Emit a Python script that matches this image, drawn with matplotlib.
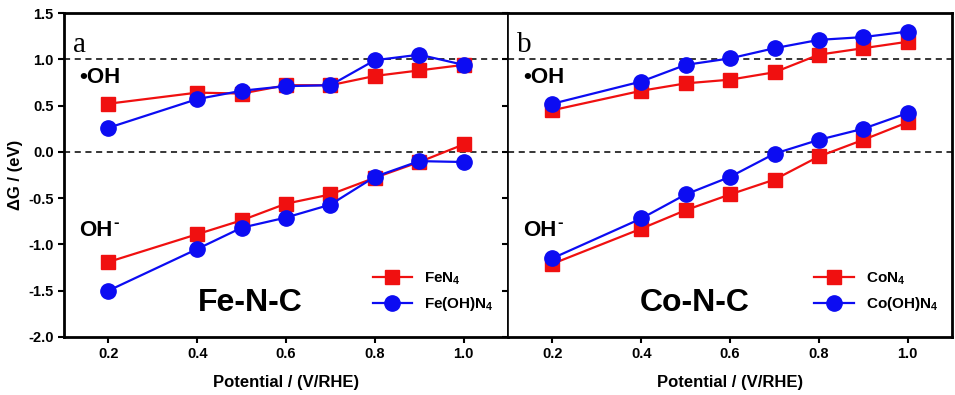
import numpy as np
import matplotlib.pyplot as plt

plt.rcParams['font.family'] = ['Liberation Sans', 'DejaVu Sans']
plt.rcParams['font.weight'] = 'bold'
plt.rcParams['mathtext.default'] = 'regular'

# 数据
potential = [0.2, 0.4, 0.5, 0.6, 0.7, 0.8, 0.9, 1.0]

fe_oh_feN4 = [0.52, 0.64, 0.63, 0.72, 0.72, 0.82, 0.88, 0.94]
fe_oh_feOHN4 = [0.26, 0.57, 0.66, 0.71, 0.72, 0.99, 1.05, 0.94]
fe_ohm_feN4 = [-1.19, -0.89, -0.74, -0.56, -0.46, -0.28, -0.11, 0.08]
fe_ohm_feOHN4 = [-1.50, -1.05, -0.82, -0.71, -0.57, -0.27, -0.10, -0.11]

co_oh_coN4 = [0.45, 0.66, 0.74, 0.78, 0.86, 1.05, 1.12, 1.19]
co_oh_coOHN4 = [0.52, 0.76, 0.94, 1.01, 1.12, 1.21, 1.24, 1.30]
co_ohm_coN4 = [-1.21, -0.83, -0.63, -0.46, -0.30, -0.05, 0.13, 0.32]
co_ohm_coOHN4 = [-1.15, -0.72, -0.46, -0.27, -0.02, 0.13, 0.25, 0.42]

red = '#f01010'
blue = '#0c0cf2'

fig = plt.figure(figsize=(9.55, 3.95), dpi=100)
ax1 = fig.add_axes([0.067, 0.147, 0.465, 0.820])
ax2 = fig.add_axes([0.532, 0.147, 0.465, 0.820])

panels = [
    (ax1, 'a', 'Fe-N-C', 'FeN$_4$', 'Fe(OH)N$_4$',
     fe_oh_feN4, fe_oh_feOHN4, fe_ohm_feN4, fe_ohm_feOHN4),
    (ax2, 'b', 'Co-N-C', 'CoN$_4$', 'Co(OH)N$_4$',
     co_oh_coN4, co_oh_coOHN4, co_ohm_coN4, co_ohm_coOHN4),
]

for ax, tag, name, lab1, lab2, r_up, b_up, r_lo, b_lo in panels:
    ax.axhline(1.0, color='black', ls=(0, (4, 3)), lw=1.1, zorder=1)
    ax.axhline(0.0, color='black', ls=(0, (4, 3)), lw=1.1, zorder=1)

    l1, = ax.plot(potential, r_up, color=red, marker='s', ms=10, lw=1.6, label=lab1, zorder=3)
    l2, = ax.plot(potential, b_up, color=blue, marker='o', ms=11, lw=1.6, label=lab2, zorder=3)
    ax.plot(potential, r_lo, color=red, marker='s', ms=10, lw=1.6, zorder=3)
    ax.plot(potential, b_lo, color=blue, marker='o', ms=11, lw=1.6, zorder=3)

    ax.set_xlim(0.1, 1.1)
    ax.set_ylim(-2.0, 1.5)
    ax.set_xticks([0.2, 0.4, 0.6, 0.8, 1.0])
    ax.set_yticks(np.arange(-2.0, 1.51, 0.5))
    ax.tick_params(direction='out', length=4, width=1.5, labelsize=10.5)
    for s in ax.spines.values():
        s.set_linewidth(2.0)
    ax.set_xlabel('Potential / (V/RHE)', fontsize=12, fontweight='bold', labelpad=10)

    ax.text(0.02, 0.90, tag, transform=ax.transAxes, fontsize=21,
            family='Liberation Serif', fontweight='normal', va='center', ha='left')
    ax.text(0.035, 0.80, '\u2022OH', transform=ax.transAxes, fontsize=16,
            fontweight='bold', va='center', ha='left')
    oh = ax.text(0.035, 0.33, 'OH', transform=ax.transAxes, fontsize=16,
                 fontweight='bold', va='center', ha='left')
    ax.annotate('-', xy=(1.0, 1.0), xycoords=oh, xytext=(0.5, -2),
                textcoords='offset points', fontsize=12, fontweight='bold',
                va='center', ha='left')
    ax.text(0.42, 0.105, name, transform=ax.transAxes, fontsize=23,
            fontweight='bold', va='center', ha='center')

    ax.legend(handles=[l1, l2], loc='lower right', bbox_to_anchor=(1.0, 0.03),
              frameon=False, handlelength=2.6, labelspacing=0.55,
              prop={'weight': 'bold', 'size': 11})

ax1.set_yticklabels(['-2.0', '-1.5', '-1.0', '-0.5', '0.0', '0.5', '1.0', '1.5'])
ax1.set_ylabel('\u0394G / (eV)', fontsize=12, fontweight='bold', labelpad=4)
ax2.tick_params(axis='y', labelleft=False)
ax2.spines['left'].set_linewidth(1.2)
ax1.spines['right'].set_linewidth(1.2)

fig.savefig('out.png', dpi=100)
